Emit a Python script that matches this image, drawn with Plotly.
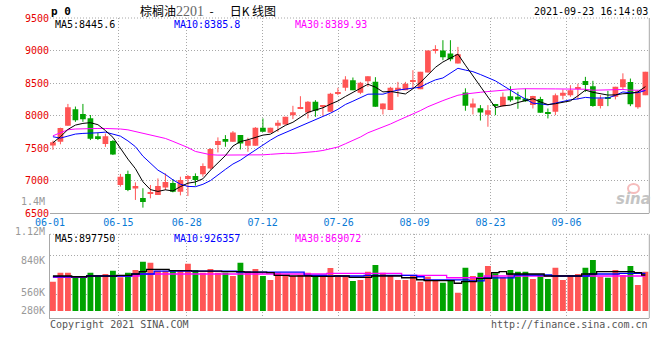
import plotly.graph_objects as go

# ---------------- data ----------------
dates = [
    "06-01", "06-02", "06-03", "06-04", "06-07", "06-08", "06-09", "06-10", "06-11",
    "06-15", "06-16", "06-17", "06-18", "06-21", "06-22", "06-23", "06-24", "06-25",
    "06-28", "06-29", "06-30",
    "07-01", "07-02", "07-05", "07-06", "07-07", "07-08", "07-09",
    "07-12", "07-13", "07-14", "07-15", "07-16", "07-19", "07-20", "07-21", "07-22", "07-23",
    "07-26", "07-27", "07-28", "07-29", "07-30",
    "08-02", "08-03", "08-04", "08-05", "08-06", "08-09", "08-10", "08-11", "08-12", "08-13",
    "08-16", "08-17", "08-18", "08-19", "08-20", "08-23", "08-24", "08-25", "08-26", "08-27",
    "08-30", "08-31",
    "09-01", "09-02", "09-03", "09-06", "09-07", "09-08", "09-09", "09-10",
    "09-13", "09-14", "09-15", "09-16", "09-17", "09-22", "09-23",
]

opens = [7540, 7600, 7845, 8100, 8025, 7960, 7685, 7565, 7610, 6935,
         7105, 6880, 6735, 6800, 6781, 6895, 6965, 6832, 7026, 7072,
         7098, 7190, 7550, 7640, 7599, 7701, 7538, 7538, 7814, 7737,
         7844, 7865, 8008, 8105, 8049, 8212, 8136, 8059, 8340, 8427,
         8545, 8351, 8530, 8519, 8100, 8085, 8392, 8392, 8519, 8407,
         8663, 9000, 9000, 8954, 8801, 8356, 8126, 8115, 8015, 8175,
         8146, 8299, 8289, 8264, 8162, 8254, 8040, 8059, 8305, 8315,
         8417, 8532, 8453, 8148, 8280, 8289, 8438, 8515, 8130, 8315]
highs = [7615, 7815, 8180, 8140, 8180, 8010, 7740, 7725, 7625, 7105,
         7155, 6975, 6885, 6935, 7036, 7113, 7026, 7062, 7088, 7113,
         7267, 7500, 7666, 7701, 7763, 7701, 7660, 7824, 7957, 7814,
         7931, 7982, 8151, 8299, 8223, 8238, 8151, 8350, 8427, 8606,
         8586, 8519, 8606, 8591, 8187, 8443, 8519, 8519, 8698, 8673,
         9000, 9082, 9159, 9159, 9056, 8420, 8264, 8162, 8162, 8180,
         8356, 8453, 8366, 8417, 8305, 8289, 8110, 8340, 8402, 8468,
         8490, 8596, 8535, 8315, 8381, 8443, 8650, 8570, 8392, 8673]
lows = [7475, 7560, 7845, 7905, 7905, 7625, 7625, 7520, 7395, 6910,
        6840, 6705, 6587, 6730, 6781, 6857, 6822, 6775, 6765, 6924,
        7062, 7170, 7435, 7522, 7599, 7481, 7445, 7538, 7752, 7737,
        7752, 7865, 7947, 8100, 7957, 7982, 7998, 8059, 8315, 8381,
        8392, 8330, 8443, 8136, 8018, 8085, 8289, 8392, 8417, 8407,
        8663, 8954, 8852, 8836, 8801, 8075, 8018, 7925, 7829, 8008,
        8140, 8213, 8105, 8213, 8110, 8044, 7957, 8008, 8250, 8289,
        8250, 8366, 8136, 8110, 8146, 8250, 8402, 8146, 8105, 8315]
closes = [7590, 7810, 8130, 7930, 7945, 7645, 7655, 7685, 7405, 7060,
          6858, 6920, 6675, 6808, 6919, 6980, 6832, 7011, 7072, 7011,
          7226, 7488, 7609, 7599, 7742, 7573, 7624, 7814, 7752, 7814,
          7890, 7982, 8054, 8110, 8212, 8074, 8151, 8335, 8355, 8555,
          8392, 8504, 8606, 8136, 8187, 8427, 8427, 8489, 8535, 8673,
          9000, 9015, 8898, 8867, 8944, 8151, 8187, 8047, 8082, 8151,
          8289, 8238, 8250, 8223, 8300, 8044, 8034, 8315, 8350, 8392,
          8430, 8472, 8148, 8264, 8268, 8443, 8560, 8177, 8375, 8673]

ma5 = [7584, 7676, 7788, 7855, 7881, 7892, 7861, 7772, 7667, 7490,
       7332.6, 7185.6, 6983.6, 6864.2, 6836, 6860.4, 6842.8, 6910, 6962.8, 6981.2,
       7030.4, 7161.6, 7281.2, 7386.6, 7532.8, 7602.2, 7629.4, 7670.4, 7701, 7715.4,
       7778.8, 7850.4, 7898.4, 7970, 8049.6, 8086.4, 8120.2, 8176.4, 8225.4, 8294,
       8357.6, 8428.2, 8482.4, 8438.6, 8365, 8372, 8356.6, 8333.2, 8413, 8510.2,
       8624.8, 8742.4, 8824.2, 8890.6, 8944.8, 8775, 8609.4, 8439.2, 8282.2, 8123.6,
       8151.2, 8161.4, 8202, 8230.2, 8260, 8211, 8170.2, 8183.2, 8208.6, 8227,
       8304.2, 8391.8, 8358.4, 8341.2, 8316.4, 8319, 8336.6, 8342.4, 8364.6, 8445.6]
ma10 = [7676, 7655, 7686, 7717, 7727, 7727, 7737, 7747, 7717, 7685.5,
        7612.3, 7523.3, 7377.8, 7265.6, 7163, 7096.5, 7014.2, 6946.8, 6913.5, 6908.6,
        6945.4, 7002.2, 7095.6, 7174.7, 7257, 7316.3, 7395.5, 7475.8, 7543.8, 7624.1,
        7690.5, 7739.9, 7784.4, 7835.5, 7882.5, 7932.6, 7985.3, 8037.4, 8097.7, 8171.8,
        8222, 8274.2, 8329.4, 8332, 8329.5, 8364.8, 8392.4, 8407.8, 8425.8, 8437.6,
        8498.4, 8549.5, 8578.7, 8651.8, 8727.5, 8699.9, 8675.9, 8631.7, 8586.4, 8534.2,
        8463.1, 8385.4, 8320.6, 8256.2, 8191.8, 8181.1, 8165.8, 8192.6, 8219.4, 8243.5,
        8257.6, 8281, 8270.8, 8274.9, 8271.7, 8311.6, 8364.2, 8350.4, 8352.9, 8385.8]
ma30 = [7691, 7735, 7783, 7795, 7800, 7803, 7803, 7803, 7803, 7795,
        7782, 7755, 7730, 7711, 7685, 7650, 7605, 7560, 7510, 7450,
        7425, 7400, 7394, 7393, 7393, 7393, 7394, 7394, 7398, 7406.1,
        7416.1, 7421.8, 7419.3, 7425.3, 7434.2, 7448.5, 7465, 7486.7, 7518.3, 7568.2,
        7619.3, 7672.1, 7736.5, 7780.7, 7823, 7871.2, 7924.4, 7973.7, 8022.4, 8077.8,
        8137, 8187.9, 8230.8, 8273.1, 8313.2, 8332.4, 8351.2, 8359, 8370, 8381.2,
        8394.5, 8403, 8409.6, 8413.3, 8416.3, 8415.3, 8411.4, 8410.7, 8410.5, 8405.1,
        8406.4, 8405.3, 8390, 8394.3, 8397, 8397.5, 8402, 8391.6, 8386.2, 8389.93]

volumes = [866, 912, 912, 895, 895, 912, 895, 905, 922, 888,
           912, 925, 967, 962, 922, 922, 925, 925, 957, 925,
           912, 930, 912, 912, 895, 962, 920, 930, 895, 875,
           912, 900, 895, 900, 912, 895, 891, 935, 900, 895,
           870, 875, 917, 951, 912, 895, 875, 875, 895, 866,
           891, 875, 861, 870, 810, 937, 895, 912, 946, 909,
           888, 925, 917, 917, 880, 900, 880, 937, 875, 900,
           905, 937, 976, 891, 886, 925, 900, 946, 849, 917]  # thousands
vol_ma5 = [895, 895, 895, 891, 891, 895, 895, 895, 895, 898,
           898, 905, 917, 929, 929, 929, 922, 922, 922, 920,
           920, 920, 920, 917, 917, 917, 915, 915, 915, 912,
           898, 898, 895, 895, 895, 893, 893, 893, 895, 895,
           888, 888, 888, 895, 895, 895, 895, 886, 886, 876,
           871, 871, 871, 871, 858, 866, 866, 883, 883, 912,
           917, 905, 905, 905, 905, 905, 895, 895, 895, 895,
           895, 905, 905, 917, 917, 917, 917, 917, 912, 900]
vol_ma10 = [891, 891, 891, 891, 891, 895, 895, 895, 895, 895,
            895, 905, 905, 905, 920, 920, 920, 920, 920, 920,
            920, 920, 920, 920, 920, 915, 915, 915, 915, 915,
            915, 915, 915, 915, 898, 898, 898, 895, 895, 895,
            895, 895, 898, 898, 898, 898, 898, 898, 898, 891,
            875, 875, 875, 875, 875, 875, 870, 870, 885, 885,
            885, 885, 900, 900, 900, 900, 900, 895, 895, 895,
            895, 895, 905, 905, 905, 905, 908, 908, 908, 908]
vol_ma30 = [888, 888, 888, 888, 888, 895, 895, 895, 895, 895,
            895, 895, 905, 905, 905, 905, 905, 905, 905, 905,
            905, 905, 905, 905, 905, 905, 905, 905, 905, 905,
            905, 905, 905, 905, 905, 905, 905, 908, 908, 908,
            908, 908, 908, 908, 908, 908, 908, 898, 898, 898,
            898, 898, 898, 886, 886, 886, 886, 886, 895, 895,
            895, 895, 895, 895, 895, 895, 895, 895, 895, 895,
            895, 895, 895, 895, 895, 895, 895, 895, 895, 895]

tick_dates = ["06-01", "06-15", "06-28", "07-12", "07-26", "08-09", "08-23", "09-06"]
price_ticks = [6500, 7000, 7500, 8000, 8500, 9000, 9500]
vol_tick_labels = ["1.12M", "840K", "560K", "280K"]

title_main = "棕榈油"
title_code = "2201"
title_tail = "\u00a0\u00a0-\u00a0\u00a0\u00a0\u00a0\u00a0\u00a0日K\u00a0线图"
timestamp = "2021-09-23 16:14:03"
legend_price = ["MA5:8445.6", "MA10:8385.8", "MA30:8389.93"]
legend_vol = ["MA5:897750", "MA10:926357", "MA30:869072"]

# ---------------- style ----------------
W, H = 660, 360
RED = "#ff5555"
GREEN = "#00a300"
GRID = "#a8a8a8"
DOT = "1px,2px"
MONO = "DejaVu Sans Mono"
BLUE_TXT = "#0a7ad6"
MIN_BODY = 16
VOL_BASE = 717000


def px(x):
    return x / W


def py(y):
    return 1 - y / H


n = len(dates)
xi = list(range(n))
up = [c >= o for o, c in zip(opens, closes)]
cols = [RED if u else GREEN for u in up]
tickvals = [dates.index(d) * 80 / 79 - 0.387 for d in tick_dates]

fig = go.Figure()

# wicks
for flag, col in ((True, RED), (False, GREEN)):
    wx, wy = [], []
    for i in xi:
        if up[i] == flag:
            wx += [i, i, None]
            wy += [lows[i], highs[i], None]
    fig.add_trace(go.Scatter(x=wx, y=wy, mode="lines", line=dict(color=col, width=1),
                             hoverinfo="skip", xaxis="x", yaxis="y"))

# bodies
fig.add_trace(go.Bar(
    x=xi,
    y=[max(abs(c - o), MIN_BODY) for o, c in zip(opens, closes)],
    base=[min(o, c) for o, c in zip(opens, closes)],
    width=0.76, marker=dict(color=cols, line=dict(width=0)),
    xaxis="x", yaxis="y"))

for arr, col in ((ma30, "#ff00ff"), (ma10, "#0000ff"), (ma5, "#000000")):
    fig.add_trace(go.Scatter(x=xi, y=arr, mode="lines", line=dict(color=col, width=1),
                             xaxis="x", yaxis="y"))

# volume
fig.add_trace(go.Bar(
    x=xi, y=[v * 1000 - VOL_BASE for v in volumes], base=VOL_BASE,
    width=0.78, marker=dict(color=cols, line=dict(width=0)),
    xaxis="x2", yaxis="y2"))
for arr, col in ((vol_ma30, "#ff00ff"), (vol_ma10, "#0000ff"), (vol_ma5, "#000000")):
    fig.add_trace(go.Scatter(x=xi, y=[v * 1000 for v in arr], mode="lines",
                             line=dict(color=col, width=1.3, shape="hvh"),
                             xaxis="x2", yaxis="y2"))

xdom = [px(50), px(649.3)]
xr = [-0.39, 79.52]
fig.update_layout(
    width=W, height=H, margin=dict(l=0, r=0, t=0, b=0, autoexpand=False),
    paper_bgcolor="white", plot_bgcolor="white",
    showlegend=False, barmode="overlay", hovermode=False,
    font=dict(family=MONO, size=10, color="#000"),
    xaxis=dict(domain=xdom, range=xr, anchor="y", tickvals=tickvals, ticktext=tick_dates,
               tickfont=dict(family=MONO, size=10, color=BLUE_TXT), ticks="",
               showgrid=True, gridcolor=GRID, griddash=DOT, gridwidth=1, automargin=False,
               showline=True, linecolor=GRID, linewidth=1, zeroline=False),
    yaxis=dict(domain=[py(213.3), py(18)], range=[6500, 9500], anchor="x",
               tickvals=price_ticks, tickfont=dict(family=MONO, size=10, color="#e60000"),
               ticks="", showgrid=True, gridcolor=GRID, griddash=DOT, zeroline=False,
               showline=False, automargin=False),
    xaxis2=dict(domain=xdom, range=xr, anchor="y2", matches="x", tickvals=tickvals,
                showticklabels=False, ticks="", showgrid=True, gridcolor=GRID, griddash=DOT,
                showline=True, linecolor=GRID, linewidth=1, zeroline=False, automargin=False),
    yaxis2=dict(domain=[py(318.3), py(234.3)], range=[680200, 1106600], anchor="x2",
                tickvals=[800000, 1000000], showticklabels=False, ticks="",
                showgrid=True, gridcolor=GRID, griddash=DOT, zeroline=False,
                showline=True, linecolor=GRID, linewidth=1, automargin=False),
)

shapes = [
    dict(type="line", xref="x domain", yref="y domain", x0=1, x1=1, y0=0, y1=1,
         line=dict(color=GRID, width=1)),
    dict(type="line", xref="x domain", yref="y domain", x0=0, x1=1, y0=1, y1=1,
         line=dict(color=GRID, width=1, dash=DOT)),
    dict(type="line", xref="x2 domain", yref="y2 domain", x0=1, x1=1, y0=0, y1=1,
         line=dict(color=GRID, width=1)),
    dict(type="line", xref="x2 domain", yref="y2 domain", x0=0, x1=1, y0=1, y1=1,
         line=dict(color=GRID, width=1, dash=DOT)),
    dict(type="circle", xref="paper", yref="paper", x0=px(628), x1=px(639),
         y0=py(193), y1=py(184), line=dict(color="#f5bcbc", width=2)),
]
fig.update_layout(shapes=shapes)


def ann(text, x, y, anchor="left", color="#000", size=10, family=MONO, **kw):
    fig.add_annotation(text=text, x=px(x), y=py(y), xref="paper", yref="paper",
                       xanchor=anchor, yanchor="middle", showarrow=False,
                       font=dict(family=family, size=size, color=color), **kw)


ann("<b>p 0</b>", 49, 11, size=11)
ann(title_main + '<span style="color:#666;font-family:Liberation Serif;font-size:14px">' +
    title_code + "</span>" + title_tail, 138, 10, size=12, family="Noto Sans CJK SC")
ann(timestamp, 650, 12, anchor="right")

ann(legend_price[0], 53, 25, color="#000")
ann(legend_price[1], 172, 25, color="#0000ff")
ann(legend_price[2], 293, 25, color="#ff00ff")
ann(legend_vol[0], 53, 238.5, color="#000")
ann(legend_vol[1], 172, 238.5, color="#0000ff")
ann(legend_vol[2], 293, 238.5, color="#ff00ff")

ann("1.4M", 47, 201, anchor="right", color="#999")
for lab, yy in zip(vol_tick_labels, [231.5, 260.5, 292, 310.5]):
    ann(lab, 47, yy, anchor="right", color="#999")

ann("<i><b>sina</b></i>", 633, 199, anchor="center", color="#c4c4c4", size=15,
    family="DejaVu Sans")
ann("Copyright 2021 SINA.COM", 48, 324, color="#555")
ann("http://finance.sina.com.cn", 650, 324, anchor="right", color="#555")

fig.write_html("out.html", config={"displayModeBar": False},
               post_script="document.body.style.margin='0';")
